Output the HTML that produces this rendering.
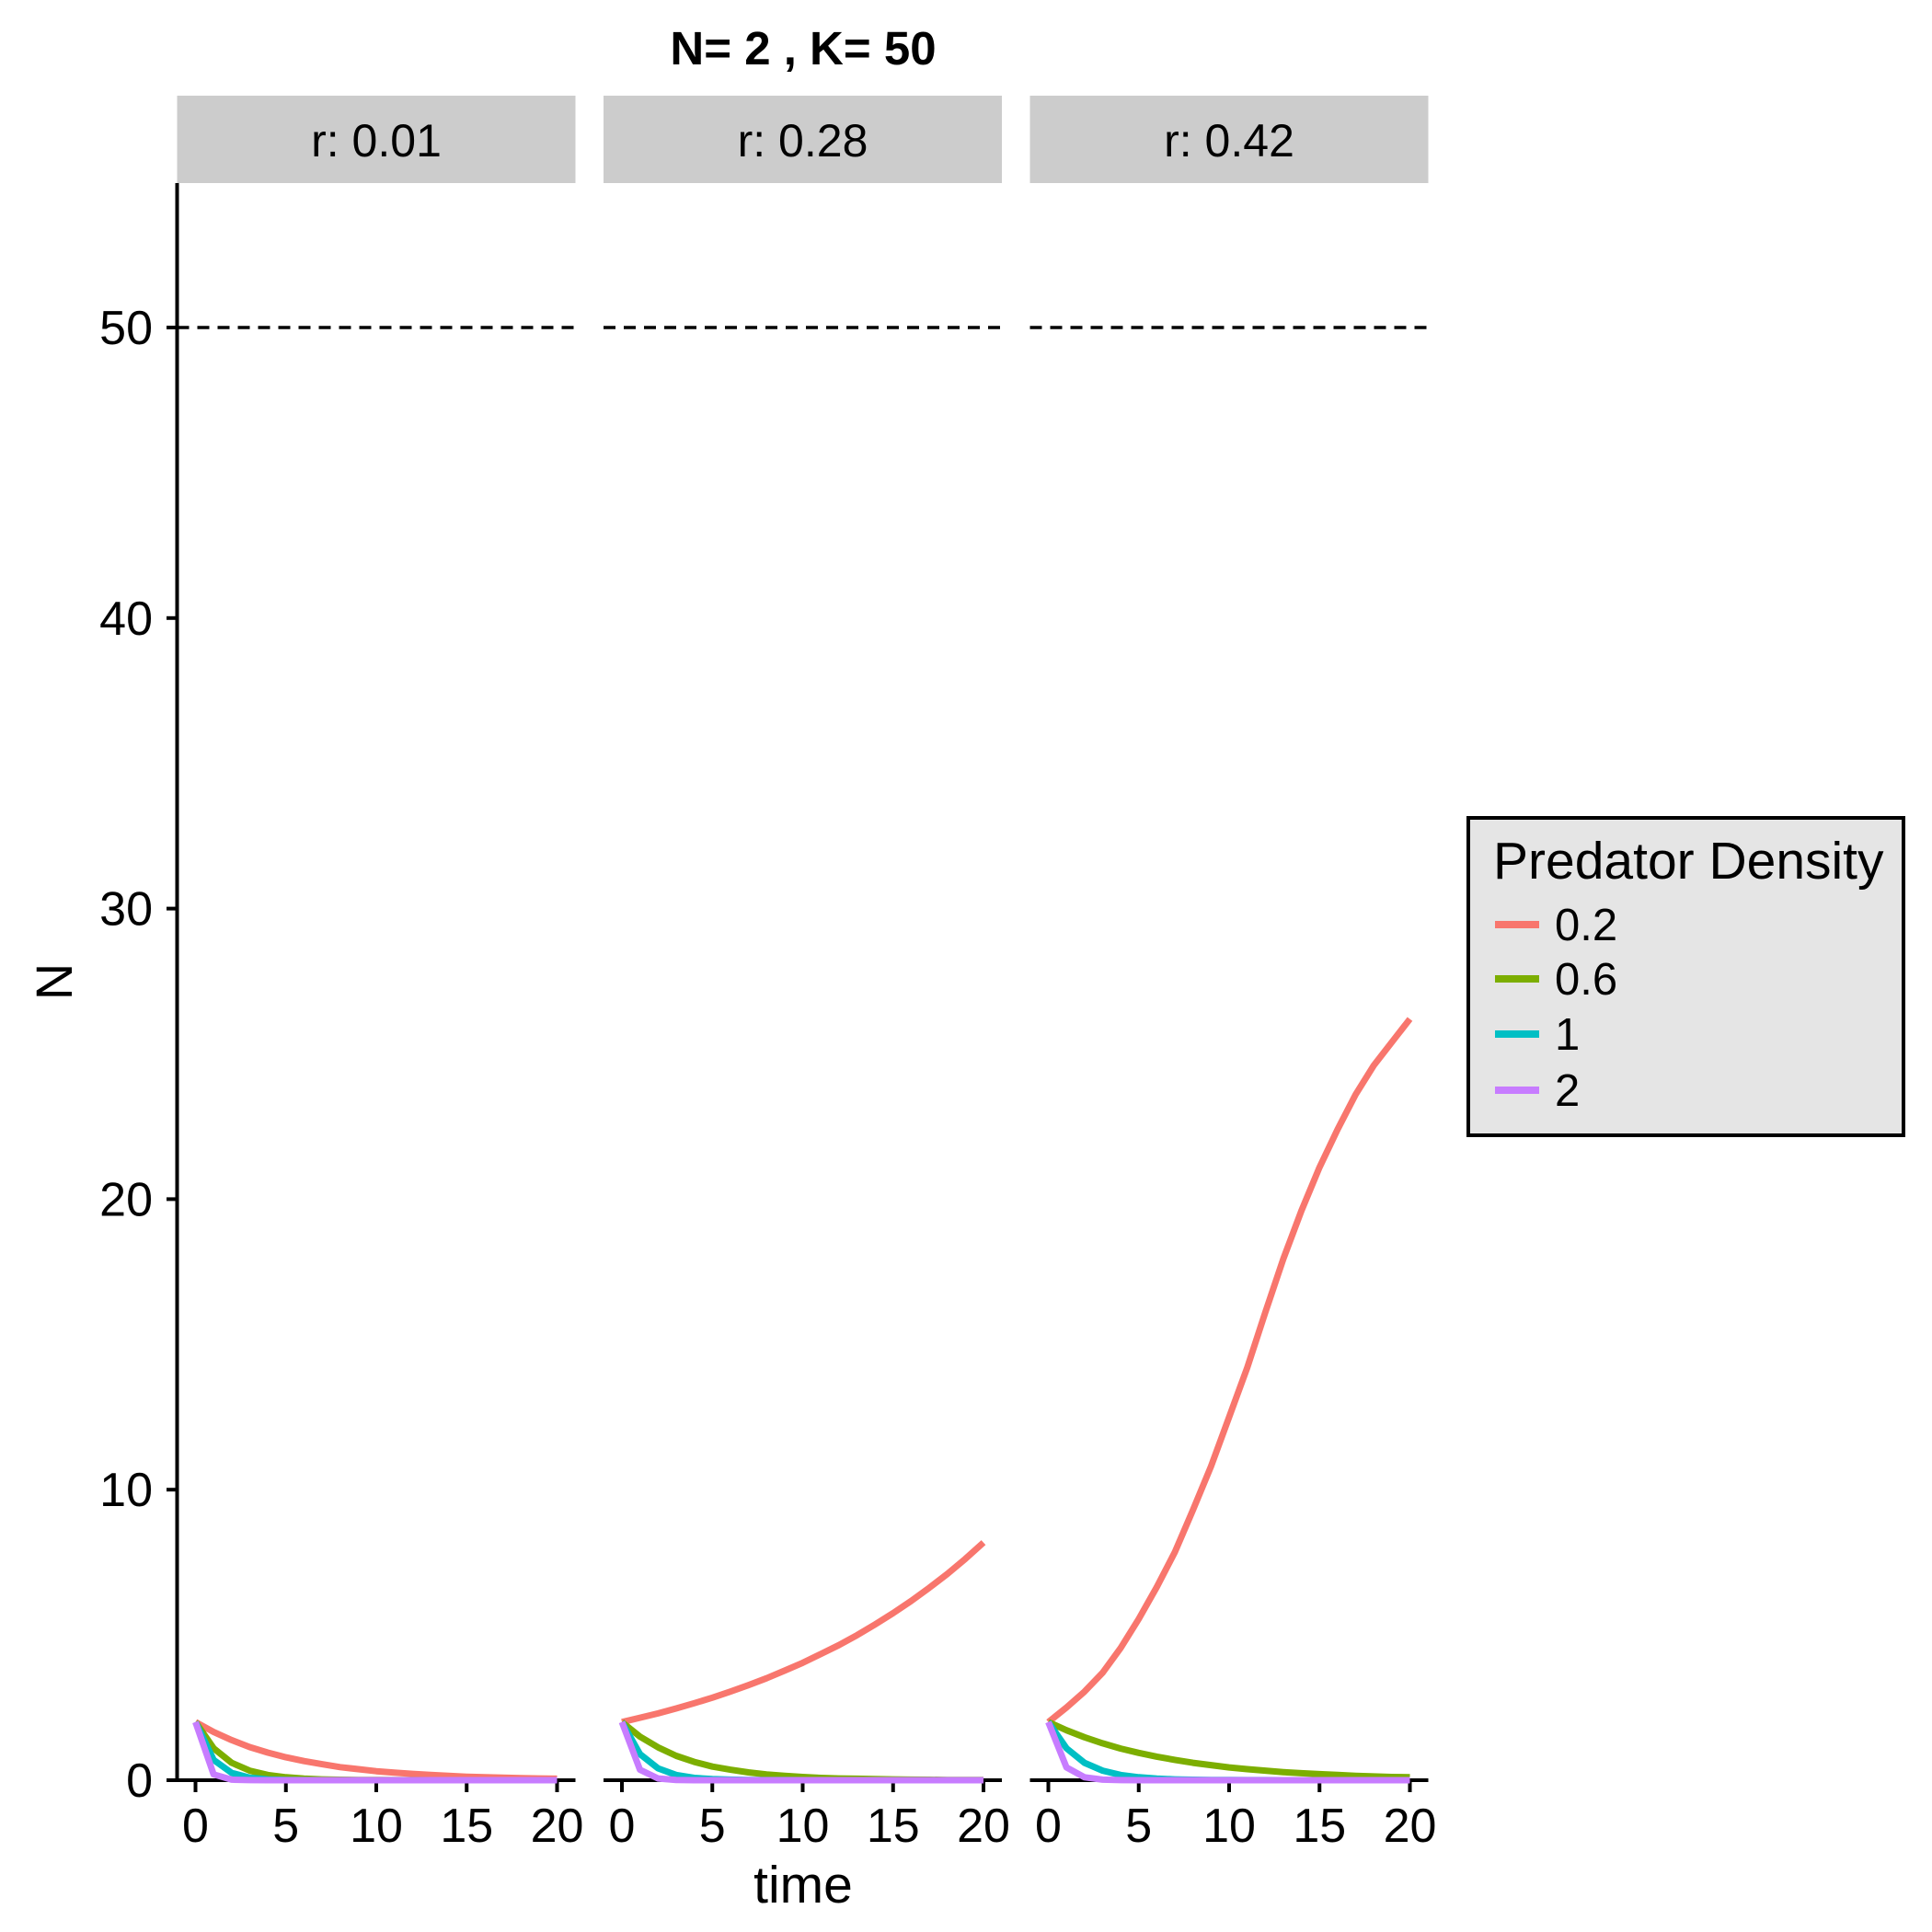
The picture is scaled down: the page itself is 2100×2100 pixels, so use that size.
<!DOCTYPE html>
<html><head><meta charset="utf-8"><style>
html,body{margin:0;padding:0;background:#fff;}
svg{display:block;font-family:"Liberation Sans",Arial,sans-serif;}
</style></head><body>
<svg id="chart" width="2100" height="2100" viewBox="0 0 2100 2100" xmlns="http://www.w3.org/2000/svg">
<text x="873" y="70" text-anchor="middle" font-size="51" font-weight="bold">N= 2 , K= 50</text>
<text transform="translate(78,1067) rotate(-90)" text-anchor="middle" font-size="56">N</text>
<text x="873" y="2068" text-anchor="middle" font-size="57">time</text>
<g id="legend">
<rect x="1596" y="889" width="473" height="345" fill="#e5e5e5" stroke="#000" stroke-width="4"/>
<text x="1623" y="955" font-size="57">Predator Density</text>
</g>
</svg>
<script>
const times = [0,1,2,3,4,5,6,7,8,9,10,11,12,13,14,15,16,17,18,19,20];
const panelLabels = ["r: 0.01","r: 0.28","r: 0.42"];
const densityLabels = ["0.2","0.6","1","2"];
const colors = ["#F8766D","#7CAE00","#00BFC4","#C77CFF"];
const yTicks = [0,10,20,30,40,50];
const xTicks = [0,5,10,15,20];
const carryingK = 50;
// panel r: 0.01
const p1d02 = [2,1.66,1.38,1.14,0.95,0.79,0.66,0.55,0.45,0.38,0.31,0.26,0.22,0.18,0.15,0.12,0.10,0.085,0.07,0.06,0.05];
const p1d06 = [2,1.1,0.6,0.33,0.18,0.1,0.055,0.03,0.017,0.009,0.005,0.003,0.002,0.001,0,0,0,0,0,0,0];
const p1d1 = [2,0.7,0.25,0.09,0.03,0.01,0.004,0.001,0,0,0,0,0,0,0,0,0,0,0,0,0];
const p1d2 = [2,0.2,0.02,0.002,0,0,0,0,0,0,0,0,0,0,0,0,0,0,0,0,0];
// panel r: 0.28
const p2d02 = [2,2.15,2.30,2.47,2.65,2.84,3.05,3.27,3.51,3.77,4.04,4.34,4.65,4.99,5.36,5.75,6.17,6.62,7.10,7.62,8.18];
const p2d06 = [2,1.5,1.13,0.84,0.63,0.47,0.36,0.27,0.2,0.15,0.11,0.08,0.06,0.05,0.04,0.03,0.02,0.015,0.01,0.008,0.006];
const p2d1 = [2,0.9,0.41,0.18,0.08,0.04,0.02,0.01,0.004,0.002,0,0,0,0,0,0,0,0,0,0,0];
const p2d2 = [2,0.36,0.06,0.01,0,0,0,0,0,0,0,0,0,0,0,0,0,0,0,0,0];
// panel r: 0.42
const p3d02 = [2,2.5,3.05,3.7,4.55,5.55,6.65,7.85,9.3,10.8,12.5,14.2,16.1,17.95,19.6,21.1,22.4,23.6,24.6,25.4,26.2];
const p3d06 = [2,1.72,1.48,1.27,1.09,0.94,0.81,0.70,0.60,0.52,0.44,0.38,0.33,0.28,0.24,0.21,0.18,0.15,0.13,0.11,0.10];
const p3d1 = [2,1.1,0.6,0.33,0.18,0.1,0.055,0.03,0.017,0.009,0.005,0.003,0.002,0.001,0,0,0,0,0,0,0];
const p3d2 = [2,0.44,0.1,0.02,0.004,0,0,0,0,0,0,0,0,0,0,0,0,0,0,0,0];

const panelSeries = [[p1d02,p1d06,p1d1,p1d2],[p2d02,p2d06,p2d1,p2d2],[p3d02,p3d06,p3d1,p3d2]];
const NS = "http://www.w3.org/2000/svg";
const svg = document.getElementById("chart");
const panelLeft = [192.5,656,1119.5];
const panelW = 433;
const plotTop = 199, plotBottom = 1935;
function yScale(v){ return 1935 - v*31.58; }
function xScale(p,t){ return panelLeft[p] + 20 + t*19.65; }
function mk(tag, attrs){ const e=document.createElementNS(NS,tag); for(const k in attrs) e.setAttribute(k,attrs[k]); return e; }

const yAxis = mk("line",{x1:192.5,y1:plotTop,x2:192.5,y2:plotBottom+2,stroke:"#000","stroke-width":4});


svg.appendChild(yAxis);
yTicks.forEach(v=>{
  const tk = mk("line",{x1:181,y1:yScale(v),x2:192.5,y2:yScale(v),stroke:"#000","stroke-width":4});
  
  
  svg.appendChild(tk);
  const lb = mk("text",{x:166,y:yScale(v)+18,"text-anchor":"end","font-size":52});
  lb.textContent = v;
  
  
  svg.appendChild(lb);
});

for(let p=0;p<3;p++){
  const g = mk("g",{});
  
  
  svg.appendChild(g);
  const strip = mk("rect",{x:panelLeft[p],y:104,width:panelW,height:95,fill:"#cccccc"});
  
  
  g.appendChild(strip);
  const st = mk("text",{x:panelLeft[p]+panelW/2,y:170,"text-anchor":"middle","font-size":50});
  st.textContent = panelLabels[p];
  
  
  g.appendChild(st);
  const kl = mk("line",{x1:panelLeft[p],y1:yScale(carryingK),x2:panelLeft[p]+panelW,y2:yScale(carryingK),stroke:"#000","stroke-width":3.5,"stroke-dasharray":"13,9"});
  
  
  g.appendChild(kl);
  const xa = mk("line",{x1:p===0?181:panelLeft[p],y1:plotBottom,x2:panelLeft[p]+panelW,y2:plotBottom,stroke:"#000","stroke-width":4});
  
  
  g.appendChild(xa);
  xTicks.forEach(t=>{
    const tk = mk("line",{x1:xScale(p,t),y1:plotBottom,x2:xScale(p,t),y2:plotBottom+13,stroke:"#000","stroke-width":4});
    
    
    g.appendChild(tk);
    const lb = mk("text",{x:xScale(p,t),y:2002,"text-anchor":"middle","font-size":52});
    lb.textContent = t;
    
    
    g.appendChild(lb);
  });
  panelSeries[p].forEach((vals,s)=>{
    const pts = times.map((t,i)=>xScale(p,t).toFixed(1)+","+yScale(vals[i]).toFixed(1)).join(" ");
    const pl = mk("polyline",{points:pts,fill:"none",stroke:colors[s],"stroke-width":7,"stroke-linejoin":"round"});
    
    
    g.appendChild(pl);
  });
}

const legend = document.getElementById("legend");
const entryY = [1022,1081,1141,1202];
densityLabels.forEach((d,i)=>{
  const ln = mk("line",{x1:1625,y1:entryY[i]-17,x2:1673,y2:entryY[i]-17,stroke:colors[i],"stroke-width":8});
  
  
  legend.appendChild(ln);
  const tx = mk("text",{x:1690,y:entryY[i],"font-size":49});
  tx.textContent = d;
  
  
  legend.appendChild(tx);
});
</script>
</body></html>
